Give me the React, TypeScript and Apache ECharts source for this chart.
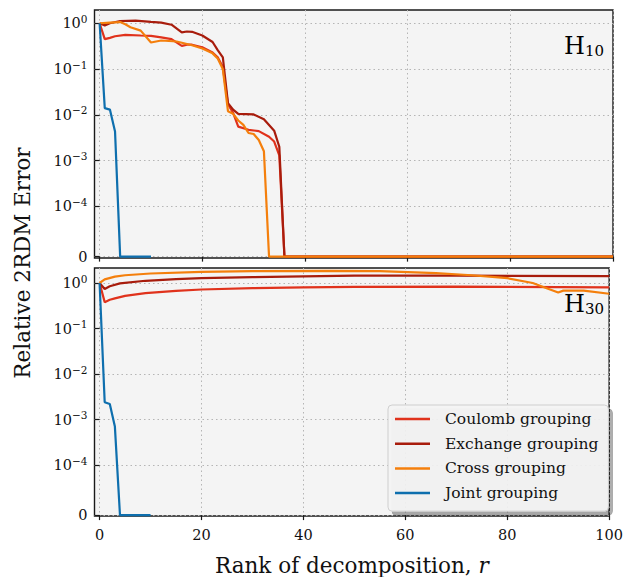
import React, { useEffect, useRef } from "react";
import * as echarts from "echarts";

// ---------- data (rank r, relative 2RDM error) ----------
const SERIES_NAMES = ["Coulomb grouping", "Exchange grouping", "Cross grouping", "Joint grouping"];
const SERIES_COLORS = ["#e0321c", "#a81c0c", "#f47f0c", "#0e6fae"];

const X_TICKS = [0, 20, 40, 60, 80, 100];
const Y_TICK_VALUES = [0, 1e-4, 1e-3, 1e-2, 1e-1, 1];
const Y_TICK_EXPONENTS = [null, "−4", "−3", "−2", "−1", "0"];

// H10 panel
const coulombH10 = [[0, 1.0], [1, 0.45], [2, 0.48], [3, 0.52], [5, 0.56], [8, 0.54], [10, 0.53], [12, 0.49], [14, 0.45], [16, 0.32], [17, 0.34], [18, 0.34], [20, 0.3], [22, 0.23], [23, 0.18], [24, 0.11], [25, 0.017], [26, 0.011], [27, 0.0055], [29, 0.0047], [31, 0.0044], [33, 0.0033], [34, 0.0026], [35, 0.0013], [36, 0], [100, 0]];
const exchangeH10 = [[0, 1.0], [1, 0.9], [2, 1.0], [4, 1.12], [7, 1.14], [10, 1.07], [12, 1.03], [14, 0.93], [16, 0.63], [17, 0.66], [18, 0.65], [20, 0.54], [22, 0.39], [23, 0.26], [24, 0.18], [25, 0.018], [26, 0.013], [27, 0.0105], [30, 0.0102], [32, 0.008], [34, 0.0045], [35, 0.002], [36, 0], [100, 0]];
const crossH10 = [[0, 1.0], [2, 1.03], [4, 1.06], [5, 0.95], [6, 0.82], [8, 0.69], [10, 0.38], [12, 0.42], [15, 0.4], [18, 0.33], [20, 0.28], [22, 0.22], [23, 0.17], [24, 0.1], [25, 0.012], [26, 0.0105], [27, 0.0075], [28, 0.006], [29, 0.004], [30, 0.0038], [31, 0.0028], [32, 0.0016], [33, 0], [100, 0]];
const jointH10 = [[0, 1.0], [1, 0.014], [2, 0.013], [3, 0.0043], [4, 0], [10, 0]];

// H30 panel
const coulombH30 = [[0, 1.0], [1, 0.38], [2, 0.43], [3, 0.46], [5, 0.52], [9, 0.6], [15, 0.67], [20, 0.72], [30, 0.77], [40, 0.8], [50, 0.82], [70, 0.83], [100, 0.8]];
const exchangeH30 = [[0, 1.0], [1, 0.74], [2, 0.85], [4, 0.98], [9, 1.12], [15, 1.22], [20, 1.28], [30, 1.35], [40, 1.4], [50, 1.45], [70, 1.45], [100, 1.42]];
const crossH30 = [[0, 1.0], [1, 1.2], [3, 1.38], [5, 1.48], [10, 1.62], [20, 1.75], [30, 1.82], [45, 1.85], [55, 1.82], [66, 1.65], [73, 1.48], [80, 1.28], [85, 1.0], [88, 0.75], [90, 0.62], [91, 0.68], [95, 0.68], [100, 0.58]];
const jointH30 = [[0, 1.0], [1, 0.0024], [2, 0.0022], [3, 0.0007], [4, 0], [10, 0]];

// ---------- symlog-like transform ----------
const LIN_THRESH = 1e-4;
const LIN_WIDTH = 1.1; // decades occupied by linear part [0, 1e-4]
function T(v: number): number {
  if (v <= 0) return 0;
  if (v < LIN_THRESH) return (v / LIN_THRESH) * LIN_WIDTH;
  return LIN_WIDTH + Math.log10(v / LIN_THRESH);
}
const Y_TICK_POS = Y_TICK_VALUES.map(T);

const FONT = "DejaVu Serif";

function yLabel(val: number): string {
  let idx = -1;
  Y_TICK_POS.forEach((p, i) => {
    if (Math.abs(p - val) < 1e-6) idx = i;
  });
  if (idx < 0) return "";
  const e = Y_TICK_EXPONENTS[idx];
  return e === null ? "{b|0}" : `{b|10}{e|${e}}`;
}

export default function App() {
  const ref = useRef<HTMLDivElement>(null);
  useEffect(() => {
    if (!ref.current) return;
    const chart = echarts.init(ref.current, null, { renderer: "svg" });

    const gridCommon = {
      show: true,
      backgroundColor: "#f4f4f4",
      borderColor: "#1a1a1a",
      borderWidth: 1.4,
      left: 94.5,
      width: 518.5,
    };
    const splitLine = { show: true, lineStyle: { color: "#b5b5b5", width: 1, type: [1.5, 3] } };
    const tickStyle = { lineStyle: { color: "#1a1a1a", width: 1.2 }, length: 5 };

    const xAxisBase = (gi: number, labels: boolean) => ({
      gridIndex: gi,
      type: "value",
      min: -1,
      max: 100,
      axisLine: { show: false },
      axisTick: { show: true, customValues: X_TICKS, ...tickStyle },
      axisLabel: {
        show: labels,
        customValues: X_TICKS,
        fontFamily: FONT,
        fontSize: 14.5,
        color: "#111",
        margin: 11,
      },
      splitLine: { ...splitLine },
    });

    const yAxisBase = (gi: number, min: number, max: number) => ({
      gridIndex: gi,
      type: "value",
      min,
      max,
      axisLine: { show: false },
      axisTick: { show: true, customValues: Y_TICK_POS, ...tickStyle },
      axisLabel: {
        show: true,
        customValues: Y_TICK_POS,
        formatter: yLabel,
        margin: 7,
        rich: {
          b: { fontFamily: FONT, fontSize: 14.5, color: "#111", lineHeight: 20 },
          e: { fontFamily: FONT, fontSize: 10.5, color: "#111", verticalAlign: "top", lineHeight: 10 },
        },
      },
      splitLine: { ...splitLine },
    });

    const panels = [
      [coulombH10, exchangeH10, crossH10, jointH10],
      [coulombH30, exchangeH30, crossH30, jointH30],
    ];
    const series: any[] = [];
    panels.forEach((sets, gi) => {
      sets.forEach((pts, si) => {
        series.push({
          type: "line",
          name: SERIES_NAMES[si],
          xAxisIndex: gi,
          yAxisIndex: gi,
          data: pts.map(([r, v]) => [r, T(v)]),
          showSymbol: false,
          symbol: "none",
          lineStyle: { width: 2.2, color: SERIES_COLORS[si] },
          itemStyle: { color: SERIES_COLORS[si] },
          z: 3 + si,
        });
      });
    });

    const hLabel = (sub: string, x: number, y: number) => ({
      type: "text",
      x,
      y,
      style: {
        text: `{h|H}{s|${sub}}`,
        rich: {
          h: { fontFamily: FONT, fontSize: 24, color: "#111", lineHeight: 28, verticalAlign: "bottom" },
          s: { fontFamily: FONT, fontSize: 15, color: "#111", lineHeight: 12, verticalAlign: "bottom" },
        },
      },
      z: 10,
    });

    chart.setOption({
      animation: false,
      grid: [
        { ...gridCommon, top: 10, height: 248 },
        { ...gridCommon, top: 268, height: 250 },
      ],
      xAxis: [
        xAxisBase(0, false),
        {
          ...xAxisBase(1, true),
          name: "{n|Rank of decomposition, }{i|r}",
          nameLocation: "middle",
          nameGap: 38,
          nameTextStyle: {
            rich: {
              n: { fontFamily: FONT, fontSize: 21.5, color: "#111" },
              i: { fontFamily: FONT, fontSize: 21.5, color: "#111", fontStyle: "italic" },
            },
          },
        },
      ],
      yAxis: [yAxisBase(0, -0.03, 5.39), yAxisBase(1, -0.02, 5.43)],
      legend: {
        data: SERIES_NAMES,
        orient: "vertical",
        left: 388,
        top: 405,
        padding: [6, 10, 10, 7],
        itemWidth: 35,
        itemHeight: 2.5,
        itemGap: 8.7,
        icon: "rect",
        textStyle: { fontFamily: FONT, fontSize: 15.5, color: "#111", padding: [0, 0, 0, 10] },
        backgroundColor: "rgba(244,244,244,0.9)",
        borderColor: "#cfcfcf",
        borderWidth: 1,
        borderRadius: 4,
        shadowColor: "rgba(0,0,0,0.35)",
        shadowBlur: 0,
        shadowOffsetX: 4,
        shadowOffsetY: 4,
      },
      graphic: [
        {
          type: "text",
          x: 22,
          y: 263,
          rotation: Math.PI / 2,
          style: {
            text: "Relative 2RDM Error",
            fontFamily: FONT,
            fontSize: 21.5,
            fill: "#111",
            textAlign: "center",
            textVerticalAlign: "middle",
          },
        },
        hLabel("10", 564, 30),
        hLabel("30", 564, 288),
      ],
      series,
    });
    return () => chart.dispose();
  }, []);
  return <div ref={ref} style={{ position: "absolute", left: 0, top: 0, width: 626, height: 577 }} />;
}
